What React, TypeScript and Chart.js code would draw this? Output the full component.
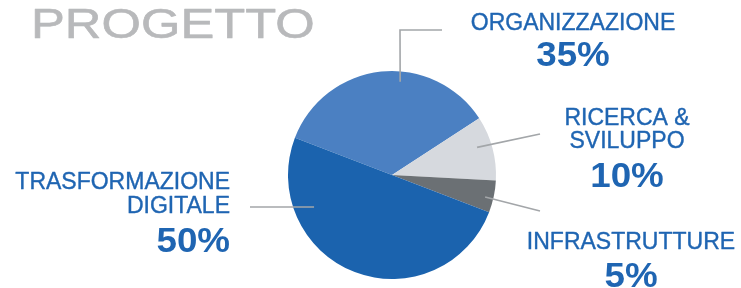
import React, { useEffect, useRef } from "react";
import { Chart, registerables } from "chart.js";

Chart.register(...registerables);

const TITLE = "PROGETTO";
const categories: string[][] = [
  ["ORGANIZZAZIONE"],
  ["RICERCA &", "SVILUPPO"],
  ["INFRASTRUTTURE"],
  ["TRASFORMAZIONE", "DIGITALE"],
];
const values: number[] = [35, 10, 5, 50];
const sliceColors: string[] = ["#4b80c2", "#d6d9de", "#6b7074", "#1b63ae"];

const TEXT_BLUE = "#1f65b2";
const LINE_GRAY = "#a3a6a9";

type LabelLayout = {
  angle: number;
  rf: number;
  path: [number, number][];
  align: CanvasTextAlign;
  x: number;
  baselines: number[];
};

const layouts: LabelLayout[] = [
  { angle: -85, rf: 0.9, path: [[400, 30], [442, 30]], align: "center", x: 573, baselines: [30, 66] },
  { angle: -18, rf: 0.86, path: [[540, 134]], align: "center", x: 627, baselines: [125, 148, 187] },
  { angle: 13.3, rf: 0.92, path: [[540, 211]], align: "center", x: 631, baselines: [249, 287] },
  { angle: 157.7, rf: 0.81, path: [[250, 207]], align: "right", x: 230, baselines: [189, 213, 252] },
];

function drawScaled(
  ctx: CanvasRenderingContext2D,
  text: string,
  x: number,
  y: number,
  align: CanvasTextAlign,
  sx: number,
  stroke: number
) {
  ctx.save();
  ctx.translate(x, y);
  ctx.scale(sx, 1);
  ctx.textAlign = align;
  ctx.textBaseline = "alphabetic";
  ctx.fillText(text, 0, 0);
  if (stroke > 0) {
    ctx.strokeStyle = ctx.fillStyle as string;
    ctx.lineWidth = stroke;
    ctx.lineJoin = "round";
    ctx.strokeText(text, 0, 0);
  }
  ctx.restore();
}

const labelPlugin = {
  id: "pieLabels",
  afterDraw(chart: any) {
    const ctx: CanvasRenderingContext2D = chart.ctx;
    const meta = chart.getDatasetMeta(0);
    const arc0 = meta.data[0];
    const cx = arc0.x;
    const cy = arc0.y;
    const r = arc0.outerRadius;

    ctx.save();
    ctx.fillStyle = "#b8b9bb";
    ctx.font = "43px 'Liberation Sans', Arial, sans-serif";
    drawScaled(ctx, TITLE, 31, 38, "left", 1.18, 0.6);
    ctx.restore();

    categories.forEach((lines, i) => {
      const L = layouts[i];
      const a = (L.angle * Math.PI) / 180;
      const ax = cx + Math.cos(a) * r * L.rf;
      const ay = cy + Math.sin(a) * r * L.rf;
      ctx.save();
      ctx.strokeStyle = LINE_GRAY;
      ctx.lineWidth = 1.6;
      ctx.beginPath();
      ctx.moveTo(ax, ay);
      L.path.forEach(([px, py]) => ctx.lineTo(px, py));
      ctx.stroke();
      ctx.restore();

      ctx.save();
      ctx.fillStyle = TEXT_BLUE;
      ctx.font = "23px 'Liberation Sans', Arial, sans-serif";
      lines.forEach((t, j) => drawScaled(ctx, t, L.x, L.baselines[j], L.align, 1.0, 0.4));
      ctx.font = "bold 35px 'Liberation Sans', Arial, sans-serif";
      drawScaled(ctx, values[i] + "%", L.x, L.baselines[lines.length], L.align, 1.05, 0);
      ctx.restore();
    });
  },
};

export default function App() {
  const ref = useRef<HTMLCanvasElement>(null);
  useEffect(() => {
    document.body.style.margin = "0";
    const chart = new Chart(ref.current!, {
      type: "pie",
      data: {
        labels: categories,
        datasets: [
          {
            data: values,
            backgroundColor: sliceColors,
            borderWidth: 0,
          },
        ],
      },
      options: {
        responsive: false,
        animation: false,
        rotation: -69,
        layout: { padding: { left: 288, right: 245, top: 71, bottom: 9 } },
        plugins: {
          legend: { display: false },
          tooltip: { enabled: false },
          title: { display: false },
        },
      },
      plugins: [labelPlugin],
    });
    return () => chart.destroy();
  }, []);
  return (
    <div style={{ position: "absolute", left: 0, top: 0, width: 741, height: 288, background: "#fff" }}>
      <canvas ref={ref} width={741} height={288} />
    </div>
  );
}
